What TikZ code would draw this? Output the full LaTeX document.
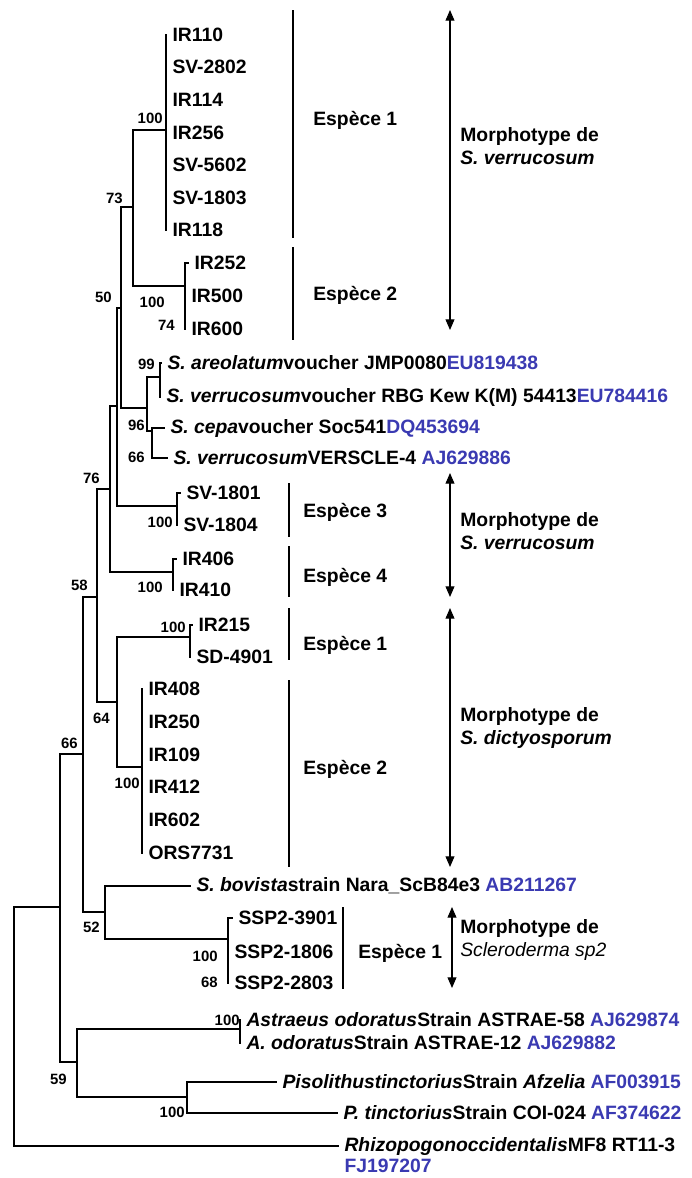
\documentclass[tikz,border=0pt]{standalone}
\usepackage{fontspec}
\setmainfont{Liberation Sans}
\usetikzlibrary{arrows.meta}
\definecolor{Acc}{RGB}{58,58,178}
\newcommand{\acc}[1]{\textcolor{Acc}{#1}}

\begin{document}
\begin{tikzpicture}[x=0.02cm, y=-0.02cm,
    branch/.style={line width=1.4pt, line cap=rect},
    leaf/.style={anchor=west, inner xsep=3.5pt, inner ysep=0pt, font=\fontsize{11}{13}\selectfont\bfseries},
    boot/.style={anchor=east, inner sep=0pt, font=\fontsize{8.5}{10}\selectfont\bfseries},
    bar/.style={line width=0.6pt},
    espece/.style={anchor=west, inner sep=0pt, font=\fontsize{11}{13}\selectfont\bfseries},
    morph/.style={anchor=west, inner sep=0pt, align=left, font=\fontsize{11}{13.5}\selectfont\bfseries},
    fleche/.style={{Triangle[length=6pt,width=5pt]}-{Triangle[length=6pt,width=5pt]}, line width=0.6pt}
  ]
  \useasboundingbox (0,0) rectangle (692,1178);

  % ---------- noeuds internes ----------
  \coordinate (root) at (14,1026);
  \coordinate (n66) at (60,907);
  \coordinate (n58) at (83,754);
  \coordinate (nC) at (97,597);
  \coordinate (n76) at (110,489);
  \coordinate (nB) at (117,406);
  \coordinate (nA) at (121,308);
  \coordinate (n73) at (133,207);
  \coordinate (c100a) at (166,130);
  \coordinate (c100b) at (185,286);
  \coordinate (n96) at (147,408);
  \coordinate (n99) at (160,377);
  \coordinate (ncepa) at (152,431);
  \coordinate (c100c) at (177,506);
  \coordinate (c100d) at (173,572);
  \coordinate (n64) at (117,702);
  \coordinate (c100e) at (190,637);
  \coordinate (c100f) at (142,767);
  \coordinate (n52) at (105,912);
  \coordinate (c100g) at (228,939);
  \coordinate (n59) at (77,1062);
  \coordinate (nast) at (240,1029);
  \coordinate (npis) at (187,1097);

  % ---------- feuilles ----------
  \node[leaf] (ir110) at (166,35) {IR110};
  \node[leaf] (sv2802) at (166,67) {SV-2802};
  \node[leaf] (ir114) at (166,100) {IR114};
  \node[leaf] (ir256) at (166,133) {IR256};
  \node[leaf] (sv5602) at (166,165) {SV-5602};
  \node[leaf] (sv1803) at (166,198) {SV-1803};
  \node[leaf] (ir118) at (166,230) {IR118};

  \node[leaf] (ir252) at (188,263) {IR252};
  \node[leaf] (ir500) at (185,296) {IR500};
  \node[leaf] (ir600) at (185,329) {IR600};

  \node[leaf] (areol) at (161,363) {\textit{S. areolatum}voucher JMP0080\acc{EU819438}};
  \node[leaf] (verrv) at (160,397) {\textit{S. verrucosum}voucher RBG Kew K(M) 54413\acc{EU784416}};
  \node[leaf] (cepa) at (164,428) {\textit{S. cepa}voucher Soc541\acc{DQ453694}};
  \node[leaf] (verrs) at (167,458) {\textit{S. verrucosum}VERSCLE-4 \acc{AJ629886}};

  \node[leaf] (sv1801) at (180,493) {SV-1801};
  \node[leaf] (sv1804) at (177,525) {SV-1804};
  \node[leaf] (ir406) at (176,559) {IR406};
  \node[leaf] (ir410) at (173,590) {IR410};

  \node[leaf] (ir215) at (192,625) {IR215};
  \node[leaf] (sd4901) at (190,657) {SD-4901};

  \node[leaf] (ir408) at (142,689) {IR408};
  \node[leaf] (ir250) at (142,722) {IR250};
  \node[leaf] (ir109) at (142,755) {IR109};
  \node[leaf] (ir412) at (142,787) {IR412};
  \node[leaf] (ir602) at (142,820) {IR602};
  \node[leaf] (ors) at (142,853) {ORS7731};

  \node[leaf] (bovista) at (190,886) {\textit{S. bovista}strain Nara\_ScB84e3 \acc{AB211267}};
  \node[leaf] (ssp1) at (232,918) {SSP2-3901};
  \node[leaf] (ssp2) at (228,952) {SSP2-1806};
  \node[leaf] (ssp3) at (228,983) {SSP2-2803};

  \node[leaf] (astr) at (240,1020) {\textit{Astraeus odoratus}Strain ASTRAE-58 \acc{AJ629874}};
  \node[leaf] (aodor) at (240,1043) {\textit{A. odoratus}Strain ASTRAE-12 \acc{AJ629882}};
  \node[leaf] (piso) at (276,1082) {\textit{Pisolithustinctorius}Strain \textit{Afzelia} \acc{AF003915}};
  \node[leaf] (ptinc) at (337,1113) {\textit{P. tinctorius}Strain COI-024 \acc{AF374622}};
  \node[leaf] (rhizo) at (338,1146) {\textit{Rhizopogonoccidentalis}MF8 RT11-3};
  \node[leaf] (rhizoacc) at (338,1166) {\acc{FJ197207}};

  % ---------- branches ----------
  \draw[branch] (root) |- (n66);
  \draw[branch] (root) |- (rhizo.west);
  \draw[branch] (n66) |- (n58);
  \draw[branch] (n66) |- (n59);
  \draw[branch] (n58) |- (nC);
  \draw[branch] (n58) |- (n52);
  \draw[branch] (nC) |- (n76);
  \draw[branch] (nC) |- (n64);
  \draw[branch] (n76) |- (nB);
  \draw[branch] (n76) |- (c100d);
  \draw[branch] (nB) |- (nA);
  \draw[branch] (nB) |- (c100c);
  \draw[branch] (nA) |- (n73);
  \draw[branch] (nA) |- (n96);
  \draw[branch] (n73) |- (c100a);
  \draw[branch] (n73) |- (c100b);
  \draw[branch] (n96) |- (n99);
  \draw[branch] (n96) |- (ncepa);
  \draw[branch] (ncepa) |- (cepa.west);
  \draw[branch] (ncepa) |- (verrs.west);
  \draw[branch] (n64) |- (c100e);
  \draw[branch] (n64) |- (c100f);
  \draw[branch] (n52) |- (bovista.west);
  \draw[branch] (n52) |- (c100g);
  \draw[branch] (n59) |- (nast);
  \draw[branch] (n59) |- (npis);
  \draw[branch] (npis) |- (piso.west);
  \draw[branch] (npis) |- (ptinc.west);

  \draw[branch] (ir110.west) -- (ir118.west);
  \draw[branch] (ir252.west) -| (ir600.west);
  \draw[branch] (areol.west) -| (verrv.west);
  \draw[branch] (sv1801.west) -| (sv1804.west);
  \draw[branch] (ir406.west) -| (ir410.west);
  \draw[branch] (ir215.west) -| (sd4901.west);
  \draw[branch] (ir408.west) -- (ors.west);
  \draw[branch] (ssp1.west) -| (ssp3.west);
  \draw[branch] (astr.west) -- (aodor.west);

  % ---------- valeurs de bootstrap ----------
  \foreach \nm/\x/\y/\v in {100a/163/118/100, 73/123/198/73, 100b/165/302/100, 74/175/325/74,
      50/112/297/50, 99/155/364/99, 96/145/425/96, 66a/145/457/66, 76/100/478/76,
      100c/173/522/100, 100d/163/587/100, 58/88/585/58, 100e/186/627/100, 64/110/718/64,
      66b/78/743/66, 100f/140/783/100, 52/100/927/52, 100g/218/956/100, 68/218/982/68,
      100h/240/1020/100, 59/67/1079/59, 100i/185/1112/100}
    \node[boot] (b\nm) at (\x,\y) {\v};

  % ---------- especes ----------
  \foreach \x/\ya/\yb/\w in {293/10/238/0.6, 293/247/340/0.6, 289/483/537/1.1, 289/546/597/1.1,
      289/608/660/1.1, 289/680/867/1.1, 343/907/989/0.9}
    \draw[bar, line width=\w pt] (\x,\ya) -- (\x,\yb);

  \node[espece] (esp1a) at (313,120) {Espèce 1};
  \node[espece] (esp2a) at (313,295) {Espèce 2};
  \node[espece] (esp3) at (303,512) {Espèce 3};
  \node[espece] (esp4) at (303,577) {Espèce 4};
  \node[espece] (esp1b) at (303,645) {Espèce 1};
  \node[espece] (esp2b) at (303,769) {Espèce 2};
  \node[espece] (esp1c) at (358,953) {Espèce 1};

  % ---------- morphotypes ----------
  \coordinate (m1top) at (450,10);  \coordinate (m1bot) at (450,330);
  \coordinate (m2top) at (450,473); \coordinate (m2bot) at (450,597);
  \coordinate (m3top) at (450,608); \coordinate (m3bot) at (450,867);
  \coordinate (m4top) at (452,907); \coordinate (m4bot) at (452,988);
  \draw[fleche] (m1top) -- (m1bot);
  \draw[fleche] (m2top) -- (m2bot);
  \draw[fleche] (m3top) -- (m3bot);
  \draw[fleche] (m4top) -- (m4bot);

  \node[morph] (morph1) at (460,146) {Morphotype de\\\textit{S. verrucosum}};
  \node[morph] (morph2) at (460,531) {Morphotype de\\\textit{S. verrucosum}};
  \node[morph] (morph3) at (460,728) {Morphotype de\\\textit{S. dictyosporum}};
  \node[morph] (morph4) at (460,940) {Morphotype de\\{\mdseries\itshape Scleroderma sp2}};
\end{tikzpicture}
\end{document}
